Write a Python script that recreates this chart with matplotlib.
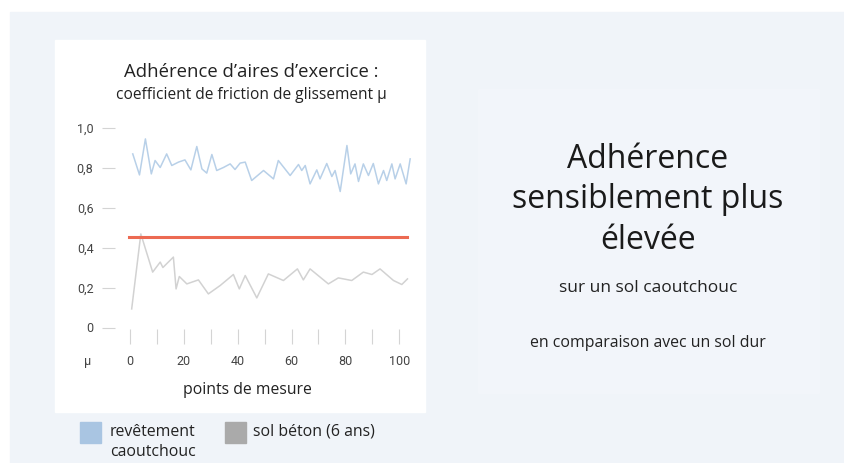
import matplotlib.pyplot as plt
from matplotlib.patches import Rectangle

# valeurs
blue_x = [1.0, 3.5, 5.7, 7.9, 9.3, 11.2, 13.6, 15.5, 18.0, 20.4, 22.6, 24.8, 26.7, 28.5,
          30.4, 32.2, 34.7, 37.2, 39.0, 40.9, 42.8, 45.2, 49.6, 53.3, 55.1, 59.5, 62.6,
          63.8, 65.1, 66.9, 69.4, 70.6, 73.1, 75.0, 76.2, 78.1, 80.6, 82.0, 83.6, 84.9,
          86.7, 88.6, 90.4, 92.3, 94.2, 95.4, 97.3, 98.5, 100.4, 102.6, 104.1]
blue_y = [0.868, 0.763, 0.943, 0.768, 0.835, 0.80, 0.868, 0.81, 0.827, 0.838, 0.788, 0.905,
          0.793, 0.772, 0.865, 0.785, 0.80, 0.818, 0.79, 0.822, 0.827, 0.735, 0.785, 0.743,
          0.835, 0.76, 0.815, 0.785, 0.81, 0.718, 0.788, 0.743, 0.82, 0.755, 0.785, 0.68,
          0.91, 0.768, 0.818, 0.73, 0.818, 0.76, 0.82, 0.718, 0.785, 0.735, 0.818, 0.743,
          0.818, 0.718, 0.843]

gray_x = [0.6, 4.0, 8.4, 11.2, 12.2, 16.1, 17.1, 18.3, 21.1, 25.4, 29.1, 33.5, 38.4, 40.6,
          42.8, 47.1, 51.4, 57.0, 62.2, 64.4, 66.9, 73.7, 77.4, 82.4, 86.7, 89.9, 92.9,
          97.9, 101.0, 103.1]
gray_y = [0.093, 0.468, 0.277, 0.327, 0.30, 0.352, 0.193, 0.255, 0.218, 0.238, 0.168, 0.21,
          0.265, 0.193, 0.26, 0.148, 0.268, 0.235, 0.293, 0.238, 0.293, 0.218, 0.248, 0.235,
          0.277, 0.265, 0.293, 0.235, 0.215, 0.243]

red_x = [-0.4, 103.0]
red_y = [0.452, 0.452]

yticks = [0, 0.2, 0.4, 0.6, 0.8, 1.0]
ylabels = ["0", "0,2", "0,4", "0,6", "0,8", "1,0"]
xticks = [0, 10, 20, 30, 40, 50, 60, 70, 80, 90, 100]
xlabels = ["0", "", "20", "", "40", "", "60", "", "80", "", "100"]

W, H = 844, 463
plt.rcParams['font.family'] = ['Open Sans', 'DejaVu Sans']

fig = plt.figure(figsize=(W / 100, H / 100), dpi=100)
fig.patch.set_facecolor('white')

def box(x0, y0, x1, y1, color):
    fig.patches.append(Rectangle((x0 / W, 1 - y1 / H), (x1 - x0) / W, (y1 - y0) / H,
                                 transform=fig.transFigure, color=color, zorder=0))

box(10, 12, W, H, '#f0f4f9')
box(478, 89, 819, 393, '#f2f5fa')
box(55, 40, 425, 412, 'white')

ax = fig.add_axes([115 / W, 1 - 327.5 / H, 300 / W, 200 / H])
ax.set_zorder(3)
ax.set_facecolor('none')
ax.plot(blue_x, blue_y, color='#b8d0e8', lw=1.1, clip_on=False)
ax.plot(gray_x, gray_y, color='#d2d2d2', lw=1.1, clip_on=False)
ax.plot(red_x, red_y, color='#ec6a52', lw=2.2, clip_on=False)
ax.set_xlim(-5.6, 105.9)
ax.set_ylim(0, 1.0)

for s in ['top', 'right', 'left', 'bottom']:
    ax.spines[s].set_visible(False)
ax.spines['bottom'].set_position(('outward', 1))

ax.set_yticks(yticks)
ax.set_yticklabels(ylabels)
ax.set_xticks(xticks)
ax.set_xticklabels(xlabels)
ax.tick_params(axis='y', length=9.5, width=0.8, color='#d4d4d4', pad=6,
               labelsize=9, labelcolor='#444444')
ax.tick_params(axis='x', length=10.5, width=0.8, color='#d4d4d4', pad=8,
               labelsize=9, labelcolor='#444444')
for lab in ax.get_xticklabels() + ax.get_yticklabels():
    lab.set_fontfamily('Roboto')

fig.text(88 / W, 1 - 361.5 / H, "μ", ha='center', va='center', fontsize=9,
         color='#444444', family='Roboto')
fig.text(247 / W, 1 - 390 / H, "points de mesure", ha='center', va='center',
         fontsize=11.3, color='#222222')
fig.text(251.5 / W, 1 - 72 / H, "Adhérence d’aires d’exercice :", ha='center',
         va='center', fontsize=13.3, color='#222222')
fig.text(251.5 / W, 1 - 95 / H, "coefficient de friction de glissement μ", ha='center',
         va='center', fontsize=11.2, color='#222222')

# légende
box(80, 422, 100.5, 442.5, '#a9c5e2')
box(225, 422, 245.5, 442.5, '#aaaaaa')
fig.text(110 / W, 1 - 431.5 / H, "revêtement", ha='left', va='center', fontsize=11.4,
         color='#222222')
fig.text(110 / W, 1 - 451.5 / H, "caoutchouc", ha='left', va='center', fontsize=11.4,
         color='#222222')
fig.text(253 / W, 1 - 431.5 / H, "sol béton (6 ans)", ha='left', va='center', fontsize=11.4,
         color='#222222')

# texte de droite
for txt, yy in [("Adhérence", 160), ("sensiblement plus", 199), ("élevée", 240)]:
    fig.text(648 / W, 1 - yy / H, txt, ha='center', va='center', fontsize=23,
             color='#1a1a1a')
fig.text(648 / W, 1 - 288 / H, "sur un sol caoutchouc", ha='center', va='center',
         fontsize=12.5, color='#222222')
fig.text(648 / W, 1 - 343 / H, "en comparaison avec un sol dur", ha='center',
         va='center', fontsize=11.4, color='#222222')

fig.savefig('out.png', dpi=100)
